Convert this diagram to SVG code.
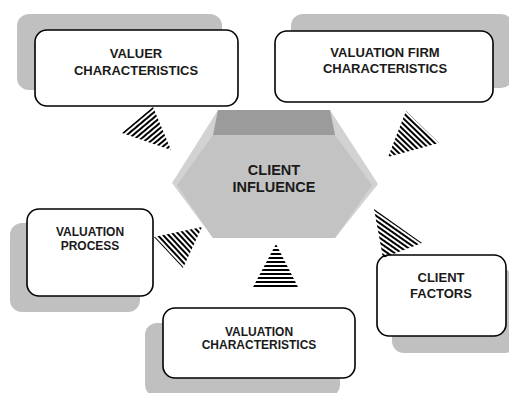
<svg xmlns="http://www.w3.org/2000/svg" width="509" height="393" viewBox="0 0 509 393">
<style>
.shadow{fill:#c0c0c0;}
.box{fill:#ffffff;stroke:#000000;stroke-width:1.6;}
.t{font-family:"Liberation Sans",Arial,sans-serif;font-weight:bold;fill:#1a1a1a;text-anchor:middle;}
</style>
<defs>
<pattern id="s1" patternUnits="userSpaceOnUse" width="8" height="4" patternTransform="rotate(-40)"><rect x="0" y="0" width="8" height="2" fill="#000"/></pattern>
<pattern id="s2" patternUnits="userSpaceOnUse" width="8" height="4" patternTransform="rotate(44)"><rect x="0" y="0" width="8" height="2" fill="#000"/></pattern>
<pattern id="s3" patternUnits="userSpaceOnUse" width="8" height="4" patternTransform="rotate(47)"><rect x="0" y="0" width="8" height="2" fill="#000"/></pattern>
<pattern id="s4" patternUnits="userSpaceOnUse" width="8" height="4" patternTransform="rotate(35)"><rect x="0" y="0" width="8" height="2" fill="#000"/></pattern>
<pattern id="s5" patternUnits="userSpaceOnUse" width="8" height="4" patternTransform="translate(0,1)"><rect x="0" y="0" width="8" height="2" fill="#000"/></pattern>
</defs>
<rect width="509" height="393" fill="#ffffff"/>

<g id="valuer">
<rect class="shadow" x="17" y="14" width="205" height="76" rx="12"/>
<rect class="box" x="35" y="30" width="203" height="76" rx="12"/>
<text class="t" font-size="13" x="136" y="57.5">VALUER</text>
<text class="t" font-size="13" x="136" y="74.5">CHARACTERISTICS</text>
</g>

<g id="firm">
<rect class="shadow" x="291" y="14" width="222" height="74" rx="12"/>
<rect class="box" x="275" y="31" width="218" height="71" rx="12"/>
<text class="t" font-size="13" x="385" y="57">VALUATION FIRM</text>
<text class="t" font-size="13" x="385" y="73">CHARACTERISTICS</text>
</g>

<g id="process">
<rect class="shadow" x="10" y="223" width="130" height="89" rx="12"/>
<rect class="box" x="27" y="209" width="126" height="87" rx="12"/>
<text class="t" font-size="12" x="90" y="236">VALUATION</text>
<text class="t" font-size="12" x="90" y="249.5">PROCESS</text>
</g>

<g id="factors">
<rect class="shadow" x="392" y="270" width="125" height="83" rx="12"/>
<rect class="box" x="377" y="255" width="129" height="81" rx="12"/>
<text class="t" font-size="13" x="441" y="282">CLIENT</text>
<text class="t" font-size="13" x="441" y="298">FACTORS</text>
</g>

<g id="valchar">
<rect class="shadow" x="145" y="323" width="195" height="74" rx="12"/>
<rect class="box" x="163" y="308" width="192" height="70" rx="12"/>
<text class="t" font-size="12" x="259" y="336">VALUATION</text>
<text class="t" font-size="12" x="259" y="348.5">CHARACTERISTICS</text>
</g>

<g id="influence">
<polygon points="218,110 330,110 378,184 335,238 213,238 172,183" fill="#d2d2d2"/>
<polygon points="213,135 335,135 372,185 335,238 213,238 177,185" fill="#c3c3c3"/>
<polygon points="218,110 330,110 335,135 213,135" fill="#9b9b9b"/>
<text class="t" font-size="14.5" x="274" y="175">CLIENT</text>
<text class="t" font-size="14.5" x="274" y="192">INFLUENCE</text>
</g>

<g id="connectors">
<polygon points="122,133 153,107 171,150" fill="url(#s1)"/>
<polygon points="406,111 439,143 388,157" fill="url(#s2)"/>
<polygon points="154,237 183,268 202,227" fill="url(#s3)"/>
<polygon points="374,209 422,243 383,258" fill="url(#s4)"/>
<polygon points="276,244 252,289 299,289" fill="url(#s5)"/>
</g>
</svg>
